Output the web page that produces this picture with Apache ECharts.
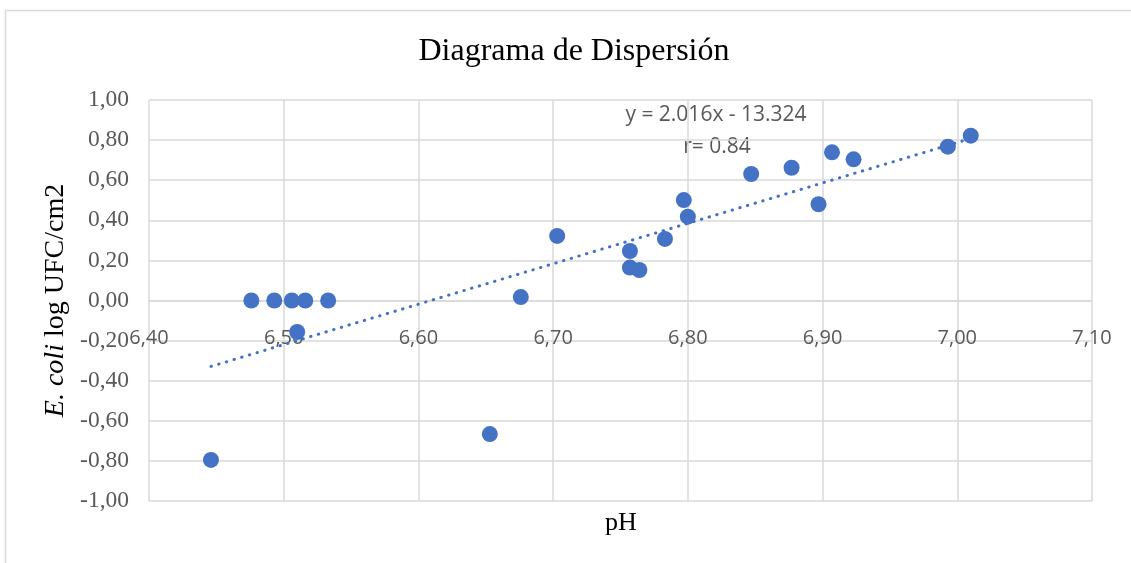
<!DOCTYPE html>
<html>
<head>
<meta charset="utf-8">
<script src="https://cdn.jsdelivr.net/npm/echarts@6/dist/echarts.min.js"></script>
<style>
  html, body { margin: 0; padding: 0; background: #fff; }
  #chart { width: 1131px; height: 563px; }
</style>
</head>
<body>
<div id="chart"></div>
<script>
// pH vs E. coli (log UFC/cm2)
var phValues = [6.446, 6.476, 6.493, 6.506, 6.510, 6.516, 6.533, 6.653, 6.676, 6.703,
                6.757, 6.757, 6.764, 6.783, 6.797, 6.800, 6.847, 6.877, 6.897, 6.907,
                6.923, 6.993, 7.010];
var ecoliValues = [-0.795, 0.0, 0.0, 0.0, -0.157, 0.0, 0.0, -0.666, 0.017, 0.322,
                   0.247, 0.164, 0.152, 0.307, 0.501, 0.418, 0.631, 0.662, 0.480, 0.739,
                   0.704, 0.767, 0.822];
// trend line shown on the chart: y = 2.016x - 13.324
var trendSlope = 2.016;
var trendIntercept = -13.324;
var equationText = 'y = 2.016x - 13.324';
var rText = 'r= 0.84';

var points = phValues.map(function (x, i) { return [x, ecoliValues[i]]; });
var xLo = Math.min.apply(null, phValues);
var xHi = Math.max.apply(null, phValues);
var trendPoints = [[xLo, trendSlope * xLo + trendIntercept], [xHi, trendSlope * xHi + trendIntercept]];

var comma = function (v) { return v.toFixed(2).replace('.', ','); };
var gridColor = '#d9d9d9';
var serif = '"Liberation Serif", "Times New Roman", serif';

var myChart = echarts.init(document.getElementById('chart'));

var option = {
    animation: false,
    grid: {
        left: 149,
        top: 100,
        right: 39,
        bottom: 62
    },
    xAxis: {
        type: 'value',
        min: 6.4,
        max: 7.1,
        interval: 0.1,
        // axis sits on y = 0, like the original
        offset: -200.5,
        axisLine: {
            onZero: false,
            lineStyle: { color: gridColor, width: 1.5 }
        },
        axisTick: { show: false },
        axisLabel: {
            margin: 28,
            color: '#595959',
            fontFamily: '"Open Sans", sans-serif',
            fontSize: 20,
            formatter: comma
        },
        splitLine: {
            lineStyle: { color: gridColor, width: 1.5 }
        }
    },
    yAxis: {
        type: 'value',
        min: -1,
        max: 1,
        interval: 0.2,
        axisLine: { show: false },
        axisTick: { show: false },
        axisLabel: {
            margin: 20,
            color: '#595959',
            fontFamily: serif,
            fontSize: 23.5,
            formatter: comma
        },
        splitLine: {
            lineStyle: { color: gridColor, width: 1.5 }
        },
        name: '{i|E. coli} log UFC/cm2',
        nameLocation: 'middle',
        nameRotate: 90,
        nameGap: 78,
        nameTextStyle: {
            color: '#000',
            fontFamily: serif,
            fontSize: 28,
            rich: {
                i: { fontStyle: 'italic', fontFamily: serif, fontSize: 28, color: '#000' }
            }
        }
    },
    graphic: [
        {
            type: 'rect',
            shape: { x: 5.5, y: 10.5, width: 1200, height: 700 },
            style: { fill: 'none', stroke: gridColor, lineWidth: 1.5 },
            silent: true
        },
        {
            type: 'text',
            x: 574, y: 52,
            style: {
                text: 'Diagrama de Dispersión',
                fill: '#000',
                font: '32px ' + serif,
                textAlign: 'center',
                textVerticalAlign: 'middle'
            }
        },
        {
            type: 'text',
            x: 621, y: 523,
            style: {
                text: 'pH',
                fill: '#000',
                font: '26px ' + serif,
                textAlign: 'center',
                textVerticalAlign: 'middle'
            }
        },
        {
            type: 'text',
            x: 716, y: 115,
            style: {
                text: equationText,
                fill: '#595959',
                font: '21px "Open Sans", sans-serif',
                textAlign: 'center',
                textVerticalAlign: 'middle'
            }
        },
        {
            type: 'text',
            x: 717, y: 147,
            style: {
                text: rText,
                fill: '#595959',
                font: '21px "Open Sans", sans-serif',
                textAlign: 'center',
                textVerticalAlign: 'middle'
            }
        }
    ],
    series: [
        {
            type: 'line',
            data: trendPoints,
            showSymbol: false,
            silent: true,
            z: 2,
            lineStyle: {
                color: '#4472C4',
                width: 3,
                type: [0.5, 7.5],
                cap: 'round'
            }
        },
        {
            type: 'scatter',
            data: points,
            symbol: 'circle',
            symbolSize: 16,
            z: 3,
            itemStyle: { color: '#4472C4', opacity: 1 }
        }
    ]
};

myChart.setOption(option);
</script>
</body>
</html>
